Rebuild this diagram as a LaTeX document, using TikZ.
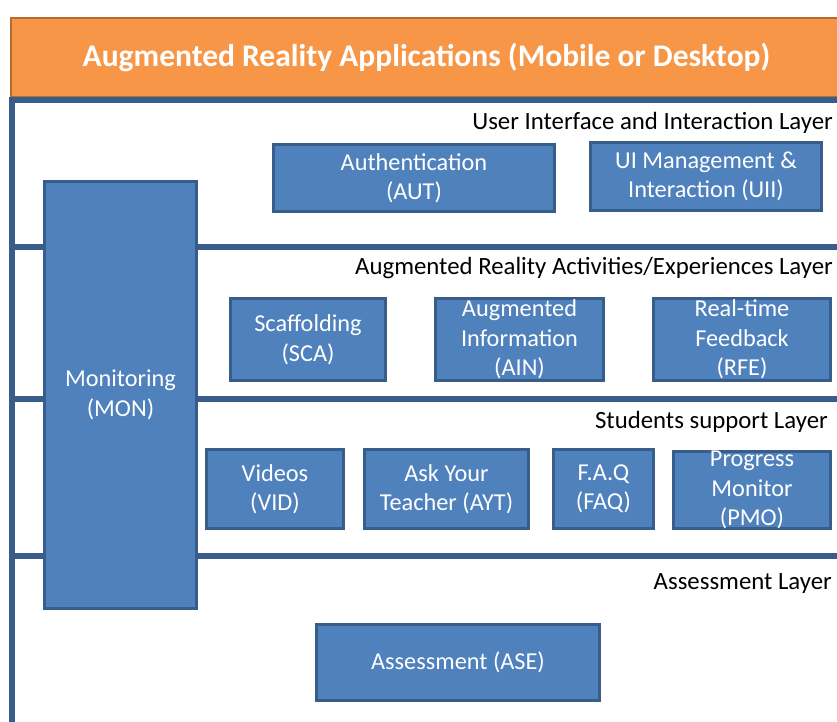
\documentclass[tikz,border=0pt]{standalone}
\usepackage{fontspec}
\setmainfont{Carlito}
\definecolor{boxfill}{HTML}{4F81BD}
\definecolor{boxline}{HTML}{385D8A}
\definecolor{headfill}{HTML}{F79646}
\definecolor{headline}{HTML}{B66D31}
\begin{document}
\begin{tikzpicture}[x=1pt,y=-1pt,
  module/.style={draw=boxline, fill=boxfill, line width=3pt, inner sep=0pt,
    text=white, align=center, font=\fontsize{24.3}{29.5}\selectfont},
  layerlabel/.style={anchor=base east, inner sep=0pt, text=black,
    font=\fontsize{24.8}{28}\selectfont},
  layerline/.style={draw=boxline, line width=6pt}]
\useasboundingbox (0,0) rectangle (837,722);
\clip (0,0) rectangle (837,722);
\fill[white] (0,0) rectangle (837,722);

% application header
\node[draw=headline, fill=headfill, line width=2pt, minimum width=835pt,
      minimum height=79pt, anchor=north west, inner sep=0pt] (head) at (10,17) {};
\node[text=white, font=\fontsize{31.5}{36}\selectfont\bfseries] (title) at (426.5,57)
  {Augmented Reality Applications (Mobile or Desktop)};

% layer frame
\coordinate (frametop) at (12.3,97);
\coordinate (framebot) at (12.3,730);
\draw[layerline] (frametop) -- (framebot);
\foreach \yy/\nm in {100/la,247/lb,399/lc,556/ld}{
  \coordinate (\nm-w) at (9.3,\yy);
  \coordinate (\nm-e) at (845,\yy);
  \draw[layerline] (\nm-w) -- (\nm-e);
}

% layer titles
\node[layerlabel] (luit) at (833,129.5) {User Interface and Interaction Layer};
\node[layerlabel] (lart) at (833,274) {Augmented Reality Activities/Experiences Layer};
\node[layerlabel] (lsst) at (828,428) {Students support Layer};
\node[layerlabel] (lasst) at (832,589) {Assessment Layer};

% cross-layer monitoring
\node[module, minimum width=152pt, minimum height=427pt] (mon) at (120.5,395)
  {Monitoring\\(MON)};

% user interface layer
\node[module, minimum width=281pt, minimum height=67pt] (aut) at (414,178)
  {Authentication\\(AUT)};
\node[module, minimum width=231pt, minimum height=68pt] (uii) at (706,176.5)
  {UI Management \&\\Interaction (UII)};

% activities layer
\node[module, minimum width=155pt, minimum height=82pt] (sca) at (308,339.5)
  {Scaffolding\\(SCA)};
\node[module, minimum width=168pt, minimum height=82pt] (ain) at (519.5,339.5)
  {Augmented\\Information\\(AIN)};
\node[module, minimum width=177pt, minimum height=82pt] (rfe) at (742,339.5)
  {Real-time\\Feedback\\(RFE)};

% students support layer
\node[module, minimum width=137pt, minimum height=79pt] (vid) at (275,489)
  {Videos\\(VID)};
\node[module, minimum width=164pt, minimum height=79pt] (ayt) at (446.5,489)
  {Ask Your\\Teacher (AYT)};
\node[module, minimum width=100pt, minimum height=79pt] (faq) at (603.5,489)
  {F.A.Q\\(FAQ)};
\node[module, minimum width=157pt, minimum height=77pt] (pmo) at (752,490)
  {Progress\\Monitor\\(PMO)};

% assessment layer
\node[module, minimum width=283pt, minimum height=76pt] (ase) at (458,662.5)
  {Assessment (ASE)};
\end{tikzpicture}
\end{document}
